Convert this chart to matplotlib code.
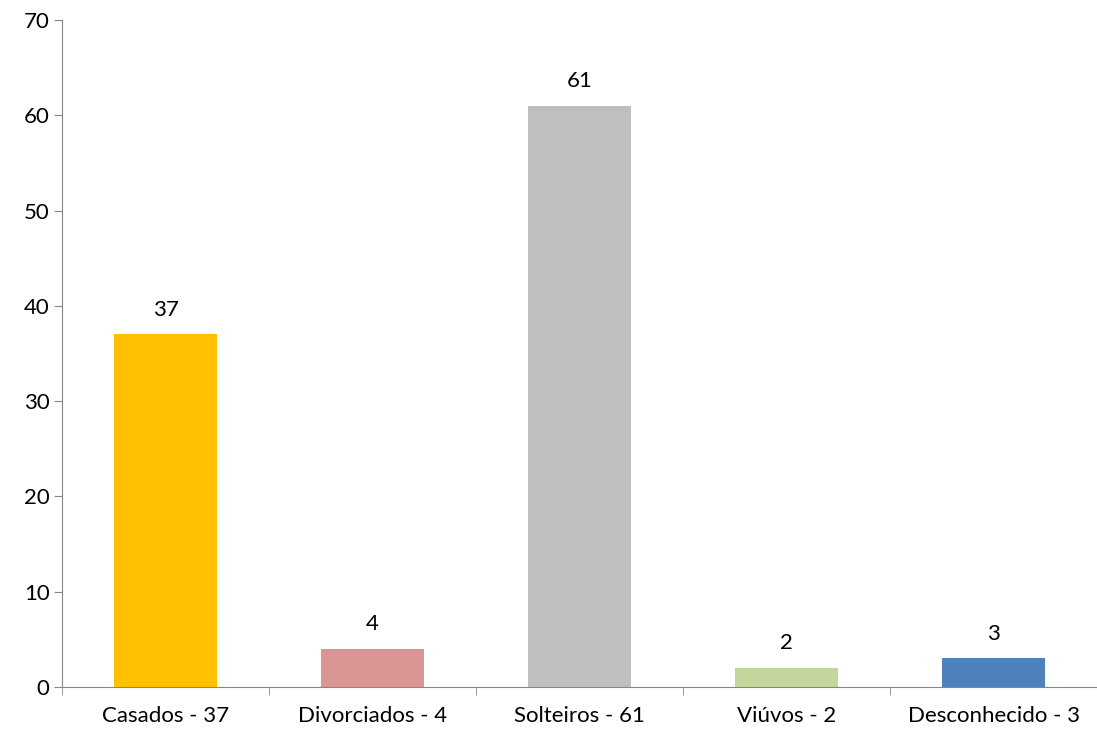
import matplotlib
matplotlib.use("Agg")
import matplotlib.pyplot as plt

# data
categories = ["Casados - 37", "Divorciados - 4", "Solteiros - 61", "Viúvos - 2", "Desconhecido - 3"]
values = [37, 4, 61, 2, 3]
colors = ["#FFC000", "#D99694", "#BFBFBF", "#C3D69B", "#4F81BD"]
yticks = [0, 10, 20, 30, 40, 50, 60, 70]

plt.rcParams['font.family'] = ['Lato', 'DejaVu Sans']

fig = plt.figure(figsize=(10.97, 7.38), dpi=100)
ax = fig.add_axes([62 / 1097, 51 / 738, 1035 / 1097, 667 / 738])

x = list(range(len(categories)))
ax.bar(x, values, width=0.5, color=colors)
for xi, v in zip(x, values):
    ax.text(xi, v + 2.6, str(v), ha='center', va='center', fontsize=16)

ax.set_xlim(-0.5, len(categories) - 0.5)
ax.set_ylim(0, 70)
ax.set_yticks(yticks)

# category labels centred, tick marks on the boundaries
ax.set_xticks(x)
ax.set_xticklabels(categories, fontsize=16)
ax.tick_params(axis='x', which='major', length=0, pad=14)
ax.set_xticks([i - 0.5 for i in range(len(categories) + 1)], minor=True)
ax.tick_params(axis='x', which='minor', length=6, color='#868686', direction='out')
ax.tick_params(axis='y', length=6, color='#868686', labelsize=16, direction='out', pad=3)

for s in ['top', 'right']:
    ax.spines[s].set_visible(False)
for s in ['left', 'bottom']:
    ax.spines[s].set_color('#868686')

fig.savefig("out.png", dpi=100)
